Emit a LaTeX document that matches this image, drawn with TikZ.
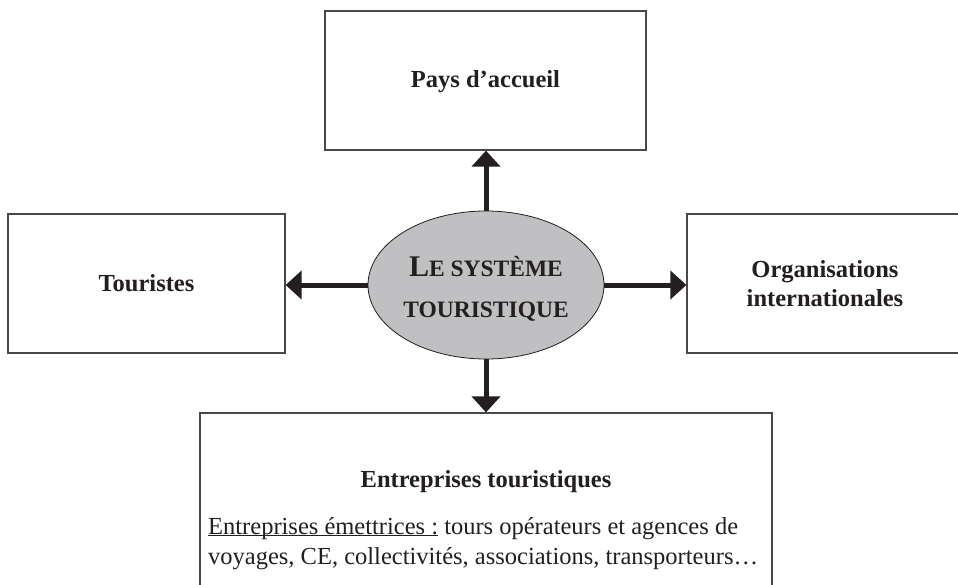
\documentclass[tikz,border=0pt]{standalone}
\usepackage{fontspec}
\setmainfont{Liberation Serif}
\usetikzlibrary{arrows.meta,shapes.geometric,positioning}
\definecolor{ink}{RGB}{35,31,32}
\definecolor{edgegray}{RGB}{72,72,72}
\definecolor{ovalgray}{RGB}{192,192,194}
\tikzset{
  box/.style={draw=edgegray,line width=1.2pt,fill=white,inner sep=0pt},
  boxtext/.style={text=ink,font=\fontsize{24.5}{29}\selectfont\bfseries,align=center},
  oval/.style={ellipse,draw=ink,line width=0.8pt,fill=ovalgray,inner sep=0pt,
    minimum width=236pt,minimum height=148pt},
  ovaltext/.style={text=ink,align=center,font=\fontsize{23.5}{41}\selectfont\bfseries},
  link/.style={draw=ink,line width=5pt,-{Triangle[length=16pt,width=28pt]}},
}
\begin{document}
\begin{tikzpicture}[x=1pt,y=-1pt]
\useasboundingbox (0,0) rectangle (958,584);
% the four boxes
\node[box,minimum width=321pt,minimum height=139pt] (pays) at (485.5,80.5) {};
\node[box,minimum width=277pt,minimum height=139pt] (tour) at (146.5,283.5) {};
\node[box,minimum width=276pt,minimum height=139pt] (orga) at (825,283.5) {};
\node[box,minimum width=572pt,minimum height=200pt] (entr) at (486,513) {};
% texts
\node[boxtext] (paystxt) at ([yshift=-1.5pt]pays.center) {Pays d’accueil};
\node[boxtext] (tourtxt) at (tour) {Touristes};
\node[boxtext] (orgatxt) at (orga) {Organisations\\internationales};
\node[boxtext] (entrtxt) at (486,482) {Entreprises touristiques};
\node[text=ink,font=\fontsize{24.5}{30}\selectfont,align=left,anchor=north west,inner sep=0pt]
  (entrbody) at (208,517) {\underline{\smash{Entreprises émettrices :}} tours opérateurs et agences de\\
  voyages, CE, collectivités, associations, transporteurs…};
% centre
\node[oval] (sys) at (486,285) {};
\node[ovaltext] (systxt) at ([yshift=-4pt]sys.center) {{\fontsize{30}{30}\selectfont L}E SYSTÈME\\TOURISTIQUE};
% arrows
\draw[link] (sys.north) -- (sys.north |- pays.south);
\draw[link] (sys.west) -- (sys.west -| tour.east);
\draw[link] (sys.east) -- (sys.east -| orga.west);
\draw[link] (sys.south) -- (sys.south |- entr.north);
\end{tikzpicture}
\end{document}
